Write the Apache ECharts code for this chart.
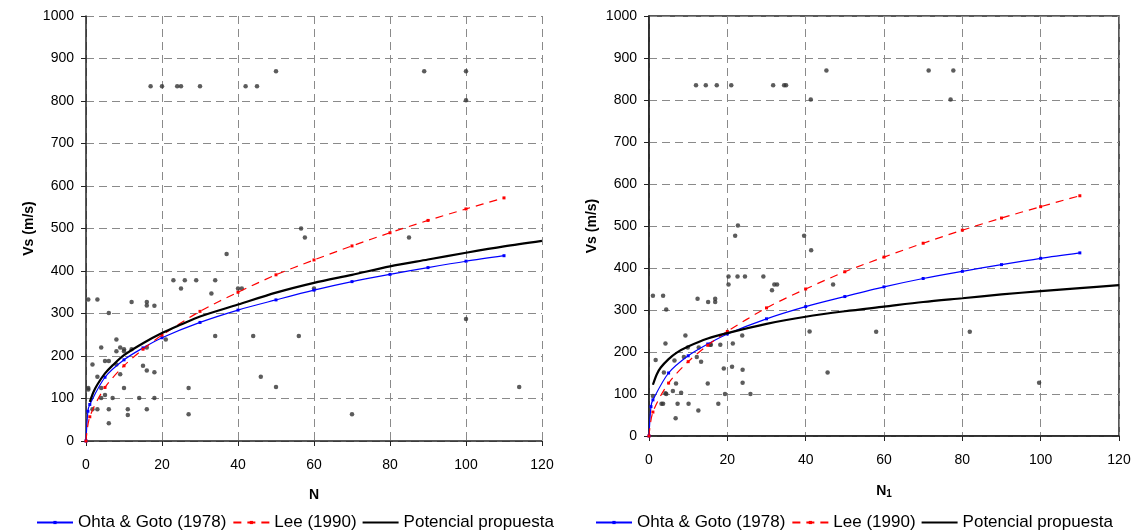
<!DOCTYPE html>
<html>
<head>
<meta charset="utf-8">
<script src="https://cdn.jsdelivr.net/npm/echarts@6/dist/echarts.min.js"></script>
<style>
  html, body { margin: 0; padding: 0; background: #fff; }
  #chart { width: 1140px; height: 531px; }
</style>
</head>
<body>
<div id="chart"></div>
<script>
// Field measurements, N (blow count) vs shear-wave velocity Vs (m/s)
const pointsN = [
  [17,835],[20,835],[24,835],[25,835],[30,835],[42,835],[45,835],[50,870],[89,870],[100,870],[100,802],
  [37,440],[23,378],[26,378],[29,378],[34,378],[25,359],[40,359],[41,359],[33,347],[0.6,333],[3,333],
  [12,327],[16,327],[16,319],[18,318],[6,301],[34,247],[44,247],[21,239],[8,239],[4,220],[9,220],
  [10,216],[10,211],[8,211],[12,216],[16,220],[5,188],[6,188],[1.7,180],[8,180],[15,177],[16,166],
  [18,162],[3,151],[9,157],[0.6,125],[0.6,121],[4,125],[10,125],[27,125],[5,108],[4,101],[7,101],
  [14,101],[18,101],[1.7,75],[3,75],[6,75],[11,75],[16,75],[11,61],[27,63],[6,42],
  [46,151],[50,127],[56,247],[60,359],[100,287],[70,63],[114,127],[56.6,500],[57.6,479],[85,479]
];
// Same measurements against corrected N1
const pointsN1 = [
  [12,835],[14.5,835],[17.3,835],[21,835],[31.7,835],[34.5,835],[35,835],[41.3,801],[45.3,870],
  [71.4,870],[77.7,870],[77,801],
  [41.4,442],[20.3,380],[22.6,380],[24.5,380],[29.2,380],[20.3,361],[32,361],[32.7,361],[31.4,347],
  [47,361],[1,334],[3.6,334],[12.4,327],[15.1,319],[16.9,319],[16.9,327],[4.4,301],[41,249],[9.3,239],
  [23.8,239],[4.2,220],[21.4,220],[18.2,217],[12.7,211],[9.9,211],[15.6,217],[15.8,217],[1.7,181],
  [6.5,180],[8.9,188],[12.2,188],[13.3,177],[19.1,161],[21.2,165],[23.9,158],[45.6,151],[3.8,151],
  [6.9,125],[15,125],[23.9,127],[1,95],[4.2,102],[4.4,100],[6.1,107],[8.2,103],[19.4,100],[25.9,100],
  [3.2,77],[3.6,77],[7.3,77],[10.1,77],[17.7,77],[12.6,61],[6.8,42],
  [58,248],[81.9,248],[99.6,127],[22.7,501],[22,477],[39.6,477]
];

// Ohta & Goto (1978)
const ohtaN  = [0, 0.5, 1, 5, 10, 15, 20, 30, 40, 50, 60, 70, 80, 90, 100, 110];
const ohtaVs = [0, 70, 86, 150, 191, 219, 243, 279, 308, 332, 355, 375, 392, 408, 423, 436];
// Lee (1990)
const leeN  = [0, 1, 5, 10, 15, 20, 30, 40, 50, 60, 70, 80, 90, 100, 110];
const leeVs = [0, 57, 126, 177, 216, 249, 305, 350, 391, 426, 459, 490, 519, 546, 572];
// Proposed power fit, N
const fitN  = [1, 2, 3, 5, 7, 10, 15, 20, 25, 30, 40, 50, 60, 70, 80, 90, 100, 110, 120];
const fitVs = [92, 116, 133, 159, 178, 202, 230, 254, 274, 293, 321, 349, 372, 391, 411, 427, 443, 458, 471];
// Proposed power fit, N1
const fit1N  = [1, 2, 3, 5, 7, 10, 15, 20, 30, 40, 50, 60, 70, 80, 90, 100, 110, 120];
const fit1Vs = [122, 147, 163, 183, 198, 213, 232, 245, 267, 284, 297, 308, 319, 328, 337, 345, 352, 359];

const xTicks = [0, 20, 40, 60, 80, 100, 120];
const yTicks = [0, 100, 200, 300, 400, 500, 600, 700, 800, 900, 1000];

const NAME_OHTA = 'Ohta & Goto (1978)';
const NAME_LEE = 'Lee (1990)';
const NAME_FIT = 'Potencial propuesta';

const zip = (xs, ys) => xs.map((x, i) => [x, ys[i]]);

const FONT = 'Liberation Sans, Arial, sans-serif';
const gridLine = { show: true, lineStyle: { color: '#8a8a8a', width: 1, type: [8, 5] } };
// plain horizontal bar used as the legend key of the fitted curve
const BAR_ICON = 'path://M0,0L0.01,0L0.01,0.01Z M0,4L0.01,4L0.01,3.99Z M0,1H36V3H0Z';

function xAxis(gridIndex, name) {
  return {
    type: 'value', gridIndex, min: xTicks[0], max: xTicks[xTicks.length - 1], interval: 20,
    name, nameLocation: 'middle', nameGap: 47,
    nameTextStyle: { fontFamily: FONT, fontSize: 14, fontWeight: 'bold', color: '#000',
      rich: { sub: { fontFamily: FONT, fontSize: 10, fontWeight: 'bold', verticalAlign: 'bottom', padding: [6, 0, 0, 0] } } },
    axisLine: { show: true, onZero: false, lineStyle: { color: '#222', width: 1.5 } },
    axisTick: { show: true, length: 5, lineStyle: { color: '#222' } },
    axisLabel: { fontFamily: FONT, fontSize: 14, color: '#000', margin: 17 },
    splitLine: gridLine
  };
}
function yAxis(gridIndex) {
  return {
    type: 'value', gridIndex, min: yTicks[0], max: yTicks[yTicks.length - 1], interval: 100,
    name: 'Vs (m/s)', nameLocation: 'middle', nameGap: 50,
    nameTextStyle: { fontFamily: FONT, fontSize: 14, fontWeight: 'bold', color: '#000' },
    axisLine: { show: true, onZero: false, lineStyle: { color: '#222', width: 1.5 } },
    axisTick: { show: true, length: 5, lineStyle: { color: '#222' } },
    axisLabel: { fontFamily: FONT, fontSize: 14, color: '#000', margin: 12, formatter: v => String(v) },
    splitLine: gridLine
  };
}

function seriesFor(idx, pts, fit) {
  return [
    { type: 'scatter', name: 'datos', xAxisIndex: idx, yAxisIndex: idx, data: pts,
      symbol: 'circle', symbolSize: 4.5, itemStyle: { color: '#333' }, z: 3 },
    { type: 'line', name: NAME_OHTA, xAxisIndex: idx, yAxisIndex: idx, data: zip(ohtaN, ohtaVs),
      smooth: 0.3, symbol: 'rect', symbolSize: 3, showSymbol: true,
      lineStyle: { color: '#0000ff', width: 1.2 }, itemStyle: { color: '#0000ff' }, z: 4 },
    { type: 'line', name: NAME_LEE, xAxisIndex: idx, yAxisIndex: idx, data: zip(leeN, leeVs),
      smooth: 0.3, symbol: 'rect', symbolSize: 3, showSymbol: true,
      lineStyle: { color: '#ff0000', width: 1.2, type: [8, 6] }, itemStyle: { color: '#ff0000' }, z: 4 },
    { type: 'line', name: NAME_FIT, xAxisIndex: idx, yAxisIndex: idx, data: fit,
      smooth: 0.3, symbol: 'none',
      lineStyle: { color: '#000', width: 2.2 }, itemStyle: { color: '#000' }, z: 5 }
  ];
}

function legend(left) {
  return {
    left, top: 509, itemWidth: 36, itemHeight: 4, itemGap: 6,
    data: [
      { name: NAME_OHTA },
      { name: NAME_LEE },
      { name: NAME_FIT, icon: BAR_ICON, itemStyle: { color: '#000' } }
    ],
    textStyle: { fontFamily: FONT, fontSize: 17, color: '#000' }
  };
}

const chart = echarts.init(document.getElementById('chart'), null, { renderer: 'canvas' });
chart.setOption({
  animation: false,
  backgroundColor: '#fff',
  grid: [
    { left: 86, top: 16, width: 456, height: 425 },
    { left: 649, top: 16, width: 470, height: 420, show: true, borderColor: '#222', borderWidth: 1.5 }
  ],
  xAxis: [xAxis(0, 'N'), xAxis(1, 'N{sub|1}')],
  yAxis: [yAxis(0), yAxis(1)],
  legend: [legend(31), legend(590)],
  series: [
    ...seriesFor(0, pointsN, zip(fitN, fitVs)),
    ...seriesFor(1, pointsN1, zip(fit1N, fit1Vs))
  ]
});
</script>
</body>
</html>
